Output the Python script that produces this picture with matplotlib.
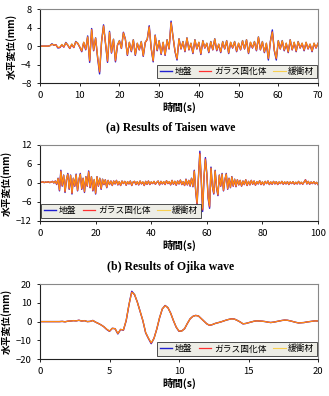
import numpy as np
import matplotlib
matplotlib.use("Agg")
import matplotlib.pyplot as plt

plt.rcParams['font.family'] = ['Noto Sans CJK JP', 'DejaVu Sans']

# ---------------- data ----------------
series_names = ["地盤", "ガラス固化体", "緩衝材"]
captions = ["(a) Results of Taisen wave", "(b) Results of Ojika wave"]

# (a) Taisen wave, 0-70 s, every 0.5 s
taisen_end = 70
taisen_ground = [
    0, 0, 0, 0, 0, 0.1, 0.5, 0.2, 0.3, -0.4,
    -0.3, 0.3, -0.2, 0.8, 0.2, -0.5, 0.4, -0.3, 1.0, 0.6,
    -0.2, -1.2, 0.8, -0.8, 2.2, -3.5, 3.8, -1.0, 1.8, -2.5,
    -6.0, 1.0, 4.6, 0.5, -3.5, 3.2, -1.5, 1.5, -3.4, 0.2,
    1.2, -0.5, 3.0, 1.5, -2.0, 0.8, -1.2, 1.4, -2.0, 0.6,
    -0.8, 1.0, -2.2, 0.8, 1.5, 4.4, -0.5, -3.4, 2.4, -1.0,
    1.2, -1.8, 0.8, -2.0, 1.4, -0.6, 5.4, 2.0, -1.2, -3.0,
    1.6, -0.6, 1.0, -1.2, 1.8, -0.8, 0.6, -1.6, 1.4, -0.6,
    0.8, -1.8, 1.2, -0.4, 0.6, -1.4, 1.0, -0.8, 1.6, -1.0,
    0.4, -1.4, 1.0, -0.6, 1.2, -1.6, 0.8, -0.4, 1.0, -1.2,
    0.6, -0.8, 1.2, -0.6, 1.4, -1.6, 0.8, -0.4, 1.0, -1.0,
    2.0, -0.8, 1.0, -1.4, 0.6, -3.0, 1.0, 3.5, -1.0, -3.0,
    1.2, -0.6, 1.2, -1.0, 0.6, -1.4, 1.4, -0.8, 0.8, -1.2,
    1.0, -0.4, 0.6, -1.0, 0.8, -0.6, 0.4, -1.2, 0.6, -0.4,
    0.6]
taisen_glass = [
    0, 0, 0, 0, 0, 0.1, 0.4, 0.2, 0.3, -0.3,
    -0.3, 0.3, -0.2, 0.7, 0.2, -0.5, 0.4, -0.3, 0.9, 0.6,
    -0.2, -1.1, 0.8, -0.7, 2.0, -3.2, 3.6, -0.9, 1.7, -2.3,
    -5.6, 0.9, 4.4, 0.5, -3.3, 3.0, -1.4, 1.4, -3.2, 0.2,
    1.1, -0.5, 2.9, 1.4, -1.9, 0.8, -1.1, 1.3, -1.9, 0.6,
    -0.8, 0.9, -2.1, 0.8, 1.4, 4.2, -0.5, -3.2, 2.3, -0.9,
    1.1, -1.7, 0.8, -1.9, 1.3, -0.6, 5.1, 1.9, -1.1, -2.8,
    1.5, -0.6, 0.9, -1.1, 1.7, -0.8, 0.6, -1.5, 1.3, -0.6,
    0.8, -1.7, 1.1, -0.4, 0.6, -1.3, 0.9, -0.8, 1.5, -0.9,
    0.4, -1.3, 0.9, -0.6, 1.1, -1.5, 0.8, -0.4, 0.9, -1.1,
    0.6, -0.8, 1.1, -0.6, 1.3, -1.5, 0.8, -0.4, 0.9, -0.9,
    1.9, -0.8, 0.9, -1.3, 0.6, -2.7, 0.9, 3.1, -0.9, -2.7,
    1.1, -0.6, 1.1, -0.9, 0.6, -1.3, 1.3, -0.8, 0.8, -1.1,
    0.9, -0.4, 0.6, -0.9, 0.8, -0.6, 0.4, -1.1, 0.6, -0.4,
    0.6]
taisen_buffer = [
    0, 0, 0, 0, 0, 0.1, 0.4, 0.3, 0.2, -0.2,
    -0.2, 0.4, -0.1, 0.7, 0.3, -0.4, 0.5, -0.2, 0.9, 0.7,
    -0.1, -1.0, 0.9, -0.6, 2.0, -3.0, 3.5, -0.8, 1.8, -2.2,
    -5.4, 1.0, 4.3, 0.6, -3.1, 3.0, -1.3, 1.5, -3.0, 0.3,
    1.2, -0.4, 2.8, 1.5, -1.8, 0.9, -1.0, 1.4, -1.8, 0.7,
    -0.7, 1.0, -2.0, 0.9, 1.5, 4.1, -0.4, -3.1, 2.3, -0.8,
    1.2, -1.6, 0.9, -1.8, 1.4, -0.5, 5.0, 2.0, -1.0, -2.7,
    1.6, -0.5, 1.0, -1.0, 1.8, -0.7, 0.7, -1.4, 1.4, -0.5,
    0.9, -1.6, 1.2, -0.3, 0.7, -1.2, 1.0, -0.7, 1.6, -0.8,
    0.5, -1.2, 1.0, -0.5, 1.2, -1.4, 0.9, -0.3, 1.0, -1.0,
    0.7, -0.7, 1.2, -0.5, 1.4, -1.4, 0.9, -0.3, 1.0, -0.8,
    2.0, -0.7, 1.0, -1.2, 0.7, -2.6, 1.0, 3.0, -0.8, -2.6,
    1.2, -0.5, 1.2, -0.8, 0.7, -1.2, 1.4, -0.7, 0.9, -1.0,
    1.0, -0.3, 0.7, -0.8, 0.9, -0.5, 0.5, -1.0, 0.7, -0.3,
    0.6]

# (b) Ojika wave, 0-100 s, every 0.5 s
ojika_end = 100
ojika_ground = [
    0.3, 0.2, 0.4, 0.1, 0.3, 0.2, 0.4, 0.1, 0.3, 0.5,
    0.0, 0.6, -0.5, 1.5, -2.5, 4.0, -1.0, 2.5, -3.0, 1.0,
    3.0, -2.0, 2.5, -3.5, 1.5, -1.0, 2.8, -2.5, 1.0, 3.0,
    -2.0, 1.5, -3.0, 2.0, -1.0, 3.8, -1.5, 2.0, -2.5, 1.0,
    -3.5, 2.0, -1.0, 1.5, -2.0, 1.2, -0.5, 1.0, -1.5, 0.8,
    -0.5, 0.6, -0.8, 0.6, -0.3, 0.8, -0.6, 0.4, -0.8, 0.6,
    -0.2, 0.5, -0.7, 0.4, -0.3, 0.6, -0.8, 0.3, 0.5, -0.5,
    0.4, -0.6, 0.6, -0.3, 0.3, -0.8, 0.5, -0.4, 0.6, -0.5,
    0.3, -0.2, 0.5, -0.4, 0.2, 0.6, -0.6, 0.5, -0.3, 0.4,
    -0.5, 0.7, -0.2, 0.4, -0.6, 0.8, -0.4, 0.5, -0.7, 0.6,
    -0.3, 0.9, -0.5, 0.4, -0.8, 1.2, -0.6, 0.8, -1.0, 1.5,
    -1.2, 4.0, -2.5, -7.0, 2.0, 10.0, 1.0, -9.0, 2.0, 8.0,
    3.0, -5.0, -8.0, 5.0, -1.0, -3.5, 4.0, -1.5, -4.0, 2.5,
    -1.0, 3.0, -2.5, 1.0, 3.0, -2.0, 1.5, -1.5, 2.0, -1.0,
    1.2, -1.2, 1.0, -0.6, 0.8, -1.0, 0.6, -0.5, 1.0, -0.8,
    0.5, -0.6, 0.8, -0.4, 0.6, -0.7, 0.4, -0.3, 0.7, -0.5,
    0.3, -0.6, 0.5, -0.2, 0.6, -0.5, 0.3, -0.4, 0.5, -0.3,
    0.4, -0.5, 0.3, -0.2, 0.5, -0.4, 0.3, -0.3, 0.4, -0.5,
    0.3, -0.2, 0.4, -0.4, 0.2, -0.3, 0.5, -0.3, 0.2, -0.4,
    0.3, 1.0, -0.3, 0.5, -0.4, 0.3, -0.2, 0.4, -0.3, 0.2,
    -0.5]
ojika_glass = [
    0.3, 0.2, 0.4, 0.1, 0.3, 0.2, 0.4, 0.1, 0.3, 0.5,
    0.0, 0.6, -0.4, 1.4, -2.3, 3.8, -0.9, 2.4, -2.8, 1.0,
    2.8, -1.9, 2.4, -3.3, 1.4, -1.0, 2.6, -2.4, 1.0, 2.8,
    -1.9, 1.4, -2.8, 1.9, -1.0, 3.6, -1.4, 1.9, -2.4, 1.0,
    -3.3, 1.9, -1.0, 1.4, -1.9, 1.1, -0.5, 1.0, -1.4, 0.8,
    -0.5, 0.6, -0.8, 0.6, -0.3, 0.8, -0.6, 0.4, -0.8, 0.6,
    -0.2, 0.5, -0.7, 0.4, -0.3, 0.6, -0.8, 0.3, 0.5, -0.5,
    0.4, -0.6, 0.6, -0.3, 0.3, -0.8, 0.5, -0.4, 0.6, -0.5,
    0.3, -0.2, 0.5, -0.4, 0.2, 0.6, -0.6, 0.5, -0.3, 0.4,
    -0.5, 0.7, -0.2, 0.4, -0.6, 0.8, -0.4, 0.5, -0.7, 0.6,
    -0.3, 0.9, -0.5, 0.4, -0.8, 1.1, -0.6, 0.8, -0.9, 1.4,
    -1.1, 3.8, -2.4, -6.6, 1.9, 9.4, 1.0, -8.5, 1.9, 7.6,
    2.8, -4.7, -7.6, 4.7, -1.0, -3.3, 3.8, -1.4, -3.8, 2.4,
    -1.0, 2.8, -2.4, 1.0, 2.8, -1.9, 1.4, -1.4, 1.9, -1.0,
    1.1, -1.1, 1.0, -0.6, 0.8, -1.0, 0.6, -0.5, 1.0, -0.8,
    0.5, -0.6, 0.8, -0.4, 0.6, -0.7, 0.4, -0.3, 0.7, -0.5,
    0.3, -0.6, 0.5, -0.2, 0.6, -0.5, 0.3, -0.4, 0.5, -0.3,
    0.4, -0.5, 0.3, -0.2, 0.5, -0.4, 0.3, -0.3, 0.4, -0.5,
    0.3, -0.2, 0.4, -0.4, 0.2, -0.3, 0.5, -0.3, 0.2, -0.4,
    0.3, 1.0, -0.3, 0.5, -0.4, 0.3, -0.2, 0.4, -0.3, 0.2,
    -0.5]
ojika_buffer = [
    0.3, 0.3, 0.3, 0.2, 0.3, 0.3, 0.3, 0.2, 0.3, 0.4,
    0.1, 0.5, -0.3, 1.4, -2.1, 3.6, -0.7, 2.4, -2.6, 1.2,
    2.7, -1.7, 2.4, -3.1, 1.5, -0.8, 2.6, -2.2, 1.2, 2.7,
    -1.7, 1.5, -2.6, 2.0, -0.8, 3.4, -1.2, 2.0, -2.2, 1.2,
    -3.1, 2.0, -0.8, 1.5, -1.7, 1.2, -0.4, 1.0, -1.3, 0.8,
    -0.4, 0.6, -0.7, 0.6, -0.2, 0.8, -0.5, 0.5, -0.7, 0.6,
    -0.1, 0.5, -0.6, 0.5, -0.2, 0.6, -0.7, 0.4, 0.5, -0.4,
    0.5, -0.5, 0.6, -0.2, 0.4, -0.7, 0.5, -0.3, 0.6, -0.4,
    0.4, -0.1, 0.5, -0.3, 0.3, 0.6, -0.5, 0.5, -0.2, 0.5,
    -0.4, 0.7, -0.1, 0.5, -0.5, 0.8, -0.3, 0.6, -0.6, 0.6,
    -0.2, 0.9, -0.4, 0.5, -0.7, 1.1, -0.5, 0.8, -0.8, 1.4,
    -1.0, 3.7, -2.2, -6.3, 2.0, 9.0, 1.2, -8.0, 2.0, 7.3,
    2.9, -4.4, -7.2, 4.6, -0.8, -3.1, 3.8, -1.2, -3.6, 2.4,
    -0.8, 2.8, -2.2, 1.1, 2.8, -1.7, 1.5, -1.3, 1.9, -0.8,
    1.2, -1.0, 1.0, -0.5, 0.8, -0.9, 0.6, -0.4, 1.0, -0.7,
    0.5, -0.5, 0.8, -0.3, 0.6, -0.6, 0.5, -0.2, 0.7, -0.4,
    0.4, -0.5, 0.5, -0.1, 0.6, -0.4, 0.4, -0.3, 0.5, -0.2,
    0.4, -0.4, 0.4, -0.1, 0.5, -0.3, 0.4, -0.2, 0.4, -0.4,
    0.4, -0.1, 0.4, -0.3, 0.3, -0.2, 0.5, -0.2, 0.3, -0.3,
    0.3, 0.9, -0.2, 0.5, -0.3, 0.3, -0.1, 0.4, -0.2, 0.2,
    -0.4]

# (c) 0-20 s, every 0.2 s
c_end = 20
c_ground = [
    0, 0, 0, 0, 0, 0, 0, 0, 0.1, -0.1,
    0.2, 0.3, 0.5, 0.4, 0.7, 0.3, 0.5, 0.0, 0.1, 0.6,
    -0.3, -1.0, -1.8, -2.8, -4.2, -5.2, -3.6, -3.8, -6.6, -4.2,
    -4.6, 0.5, 9.0, 16.2, 14.5, 10.5, 5.5, 0.5, -6.0, -9.0,
    -11.8, -9.0, -4.0, 2.0, 6.8, 8.6, 7.5, 4.5, 0.5, -3.0,
    -5.2, -5.0, -3.8, -1.0, 1.5, 2.8, 3.3, 3.0, 1.6, 0.2,
    -1.2, -2.0, -1.6, -1.0, -0.6, -0.2, 0.3, 0.8, 1.2, 1.5,
    1.3, 0.6, -0.2, -1.2, -1.0, -0.6, -0.2, 0.2, 0.4, 0.3,
    0.2, 0.0, -0.3, -0.5, -0.3, 0.0, 0.3, 0.6, 0.8, 0.7,
    0.4, 0.0, -0.4, -0.7, -0.6, -0.5, -0.2, 0.0, 0.2, 0.4,
    0.3]
c_glass = [
    0, 0, 0, 0, 0, 0, 0, 0, 0.1, -0.1,
    0.2, 0.3, 0.5, 0.4, 0.7, 0.3, 0.5, 0.0, 0.1, 0.6,
    -0.3, -1.0, -1.8, -2.8, -4.1, -5.1, -3.6, -3.8, -6.4, -4.2,
    -4.5, 0.6, 9.0, 15.8, 14.3, 10.4, 5.5, 0.5, -5.9, -8.9,
    -11.5, -8.9, -4.0, 2.0, 6.8, 8.5, 7.4, 4.5, 0.5, -3.0,
    -5.1, -5.0, -3.8, -1.0, 1.5, 2.8, 3.3, 3.0, 1.6, 0.2,
    -1.2, -2.0, -1.6, -1.0, -0.6, -0.2, 0.3, 0.8, 1.2, 1.5,
    1.3, 0.6, -0.2, -1.2, -1.0, -0.6, -0.2, 0.2, 0.4, 0.3,
    0.2, 0.0, -0.3, -0.5, -0.3, 0.0, 0.3, 0.6, 0.8, 0.7,
    0.4, 0.0, -0.4, -0.7, -0.6, -0.5, -0.2, 0.0, 0.2, 0.4,
    0.3]
c_buffer = [
    0, 0, 0, 0, 0, 0, 0, 0, 0.1, -0.1,
    0.2, 0.3, 0.5, 0.4, 0.7, 0.3, 0.5, 0.0, 0.1, 0.6,
    -0.3, -1.0, -1.8, -2.8, -4.0, -5.0, -3.6, -3.8, -6.3, -4.2,
    -4.4, 0.7, 9.1, 15.5, 14.8, 10.3, 5.6, 0.6, -5.8, -8.8,
    -11.2, -9.2, -3.9, 2.1, 6.9, 8.4, 7.6, 4.4, 0.6, -2.9,
    -5.0, -5.1, -3.7, -1.0, 1.5, 2.8, 3.2, 3.0, 1.6, 0.2,
    -1.2, -1.9, -1.6, -1.0, -0.6, -0.2, 0.3, 0.8, 1.2, 1.4,
    1.3, 0.6, -0.2, -1.1, -1.0, -0.6, -0.2, 0.2, 0.4, 0.3,
    0.2, 0.0, -0.3, -0.5, -0.3, 0.0, 0.3, 0.6, 0.8, 0.7,
    0.4, 0.0, -0.4, -0.7, -0.6, -0.5, -0.2, 0.0, 0.2, 0.4,
    0.3]

panels = [
    dict(end=taisen_end, data=[taisen_ground, taisen_glass, taisen_buffer],
         ylim=(-8, 8), yticks=[-8, -4, 0, 4, 8], xticks=[0, 10, 20, 30, 40, 50, 60, 70],
         rect=[0.1216, 0.790, 0.845, 0.187], legend_loc='lower right', legend_anchor=(0.995, 0.07),
         caption=captions[0], cap_y=0.679),
    dict(end=ojika_end, data=[ojika_ground, ojika_glass, ojika_buffer],
         ylim=(-12, 12), yticks=[-12, -6, 0, 6, 12], xticks=[0, 20, 40, 60, 80, 100],
         rect=[0.1216, 0.442, 0.845, 0.192], legend_loc='lower left', legend_anchor=(0.005, 0.045),
         caption=captions[1], cap_y=0.326),
    dict(end=c_end, data=[c_ground, c_glass, c_buffer],
         ylim=(-20, 20), yticks=[-20, -10, 0, 10, 20], xticks=[0, 5, 10, 15, 20],
         rect=[0.1216, 0.0934, 0.845, 0.189], legend_loc='lower right', legend_anchor=(0.995, 0.045),
         caption=None, cap_y=None),
]

colors = ['#2020D0', '#FF3030', '#FFC000']
widths = [1.0, 0.9, 0.8]
alphas = [1.0, 1.0, 0.65]

fig = plt.figure(figsize=(3.29, 3.96), dpi=100)

for p in panels:
    ax = fig.add_axes(p['rect'])
    for vals, name, c, lw, a in zip(p['data'], series_names, colors, widths, alphas):
        t = np.linspace(0, p['end'], len(vals))
        ax.plot(t, vals, color=c, lw=lw, alpha=a, label=name)
    ax.set_xlim(0, p['end'])
    ax.set_ylim(*p['ylim'])
    ax.set_xticks(p['xticks'])
    ax.set_yticks(p['yticks'])
    ax.tick_params(labelsize=6.8, length=2.5, width=0.6, direction='out', pad=3.5)
    for s in ['top', 'right']:
        ax.spines[s].set_color('#888888')
        ax.spines[s].set_linewidth(0.8)
    for s in ['left', 'bottom']:
        ax.spines[s].set_color('#222222')
        ax.spines[s].set_linewidth(0.8)
    ax.set_xlabel('時間(s)', fontsize=7.5, fontweight='bold', labelpad=1)
    ax.set_ylabel('水平変位(mm)', fontsize=7, fontweight='bold', labelpad=3)
    leg = ax.legend(loc=p['legend_loc'], bbox_to_anchor=p['legend_anchor'], ncol=3,
                    fontsize=6.3, frameon=True, fancybox=False, handlelength=1.4,
                    handletextpad=0.3, columnspacing=0.8, borderpad=0.25,
                    borderaxespad=0.0)
    leg.get_frame().set_facecolor('#EDEDE6')
    leg.get_frame().set_edgecolor('#333333')
    leg.get_frame().set_linewidth(0.6)
    leg.get_frame().set_alpha(1.0)
    if p['caption']:
        bb = p['rect']
        fig.text(bb[0] + bb[2] / 2 - 0.025, p['cap_y'], p['caption'],
                 ha='center', va='center', fontsize=8.5, fontweight='bold',
                 family=['Liberation Serif', 'DejaVu Serif'])

fig.savefig('out.png', dpi=100)
